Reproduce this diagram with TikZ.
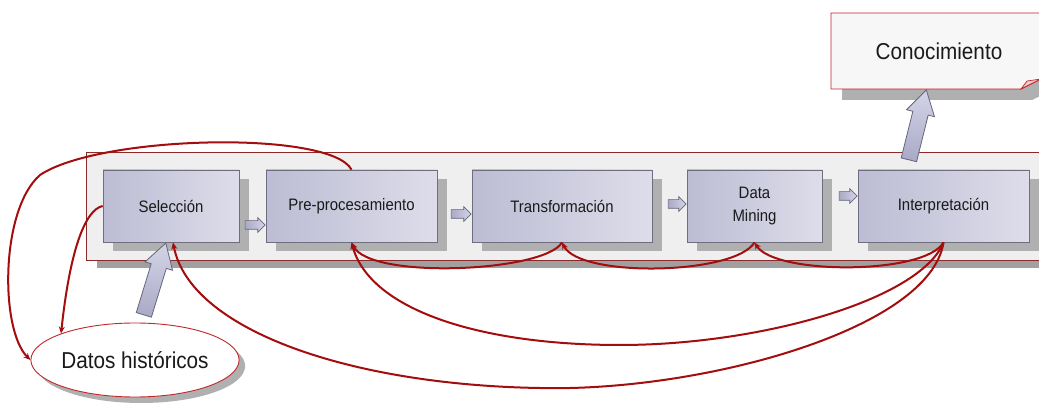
\documentclass[tikz,border=0pt]{standalone}
\usepackage{fontspec}
\setmainfont{Liberation Sans}
\newfontfamily\nf[FakeStretch=0.9]{Liberation Sans}
\usetikzlibrary{shapes.arrows,shapes.geometric,shadows,calc,arrows.meta}
\definecolor{boxL}{HTML}{BCBCD4}
\definecolor{boxR}{HTML}{DDDDEA}
\definecolor{boxline}{HTML}{6E6E7E}
\definecolor{shadowgray}{HTML}{B0B0B0}
\definecolor{panelfill}{HTML}{EFEFEF}
\definecolor{panelline}{HTML}{8C2A2A}
\definecolor{panelshadow}{HTML}{A0A0A0}
\definecolor{redline}{HTML}{A30D0D}
\definecolor{notefill}{HTML}{F7F7F7}
\definecolor{noteline}{HTML}{C0282D}
\definecolor{foldfill}{HTML}{E9C9CB}
\definecolor{txt}{HTML}{1A1A1A}
\definecolor{arrA}{HTML}{D4D4E8}
\definecolor{arrB}{HTML}{A9A9C6}
\definecolor{arrline}{HTML}{65657A}
\begin{document}
\begin{tikzpicture}[x=1pt,y=-1pt,
  stage/.style={draw=boxline, line width=0.8pt, left color=boxL, right color=boxR,
    minimum height=72pt, inner sep=2pt, align=center, text=txt,
    font=\nf\fontsize{16.6}{23}\selectfont,
    general shadow={fill=shadowgray, shadow xshift=10pt, shadow yshift=-9pt}},
  panel/.style={draw=panelline, line width=0.7pt, fill=panelfill, inner sep=0pt,
    general shadow={fill=panelshadow, shadow xshift=11pt, shadow yshift=-8pt}},
  fb/.style={draw=redline, line width=2pt, -{Stealth[length=7pt,width=6pt]}},
  bigarrow/.style={single arrow, draw=arrline, line width=0.8pt, top color=arrA, bottom color=arrB,
    text height=15pt, text depth=0pt, text width=0pt,
    minimum width=28pt, single arrow head extend=6.5pt, single arrow tip angle=62, inner sep=0pt},
  smallarrow/.style={single arrow, draw=arrline, line width=0.7pt, left color=arrB, right color=arrA,
    text height=8pt, text depth=0pt, text width=0pt,
    minimum width=14pt, single arrow head extend=3pt, single arrow tip angle=90, inner sep=0pt}]
\useasboundingbox (0,0) rectangle (1039,403);
\clip (0,0) rectangle (1039,403);
\fill[white] (0,0) rectangle (1039,403);

% container panel
\node[panel, minimum width=966pt, minimum height=108pt] (panel) at (569,206) {};

% stages
\node[stage, minimum width=136pt] (sel) at (171,206) {Selección};
\node[stage, minimum width=171pt] (pre) at (351.5,206) {Pre-procesamiento};
\node[stage, minimum width=180pt] (trans) at (562,206) {Transformación};
\node[stage, minimum width=135pt] (dm) at (754.5,206) {Data\\Mining};
\node[stage, minimum width=171pt] (interp) at (943.5,206) {Interpretación};

% small block arrows between stages
\node[smallarrow, minimum height=20pt, anchor=tip] (a1) at ($(pre.west)+(0,19)$) {};
\node[smallarrow, minimum height=20pt, anchor=tip] (a2) at ($(trans.west)+(0,8)$) {};
\node[smallarrow, minimum height=18pt, anchor=tip] (a3) at ($(dm.west)+(0,-2)$) {};
\node[smallarrow, minimum height=18pt, anchor=tip] (a4) at ($(interp.west)+(0,-10)$) {};

% Conocimiento note with folded corner
\fill[shadowgray] (842,24) -- (1052,24) -- (1052,90) -- (1032,100) -- (842,100) -- cycle;
\filldraw[fill=notefill, draw=noteline, line width=0.9pt]
  (831,13) -- (1041,13) -- (1041,79) -- (1021,89) -- (831,89) -- cycle;
\filldraw[fill=foldfill, draw=noteline, line width=0.7pt]
  (1021,89) -- (1027,81) -- (1041,79) -- cycle;
\node[minimum width=209pt, minimum height=76pt, inner sep=0pt, text=txt,
  font=\nf\fontsize{23}{28}\selectfont] (know) at (935.5,51) {\hspace*{7pt}Conocimiento};

% Datos historicos
\node[ellipse, draw=noteline, line width=0.9pt, fill=white, minimum width=190pt, minimum height=74pt,
  inner sep=0pt, text=txt, font=\nf\fontsize{23}{26}\selectfont,
  general shadow={fill=shadowgray, shadow xshift=6pt, shadow yshift=-6pt}] (hist) at (135,360) {Datos históricos};

% big arrows
\node[bigarrow, rotate=73, minimum height=75pt, anchor=tip] (feed) at ([xshift=-5pt]sel.south) {};
\node[bigarrow, rotate=76, minimum height=72pt, anchor=tip] (out) at ([xshift=-9pt]know.south) {};

% feedback curves
\draw[fb] (pre.north) .. controls (330,130) and (100,135) .. (40,175)
  .. controls (0,210) and (0,330) .. (hist.west);
\draw[fb] (sel.west) .. controls (85,210) and (70,250) .. (hist.north west);
\draw[fb] (trans.south) .. controls (545,272) and (370,280) .. (pre.south);
\draw[fb] (dm.south) .. controls (735,275) and (580,278) .. (trans.south);
\draw[fb] (interp.south) .. controls (925,275) and (775,275) .. (dm.south);
\draw[fb] (interp.south) .. controls (920,300) and (760,345) .. (620,345)
  .. controls (480,345) and (370,310) .. (pre.south);
\draw[fb] (interp.south) .. controls (930,330) and (700,392) .. (540,388)
  .. controls (350,385) and (190,330) .. ([xshift=2pt]sel.south);
\end{tikzpicture}
\end{document}
